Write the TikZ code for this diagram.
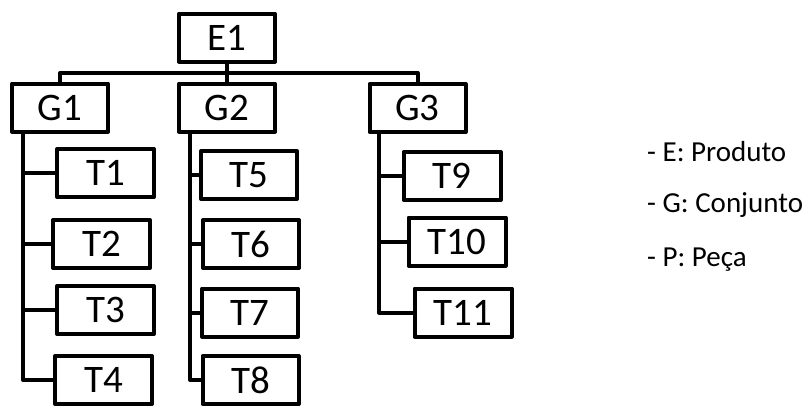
\documentclass[tikz,border=0pt]{standalone}
\usepackage{fontspec}
\setmainfont{Carlito}
\begin{document}
\begin{tikzpicture}[x=1pt,y=-1pt,
  box/.style={draw,line width=4pt,line join=round,minimum width=96pt,minimum height=48pt,inner sep=0pt,font=\fontsize{39}{40}\selectfont},
  conn/.style={line width=4pt,line join=round},
  legend/.style={anchor=base west,inner sep=0pt,font=\fontsize{29}{32}\selectfont}]
\useasboundingbox (0,0) rectangle (808,405);
\node[box] (E1) at (227,37.5) {E1};
\node[box] (G1) at (60,107.5) {G1};
\node[box] (G2) at (227,107.5) {G2};
\node[box] (G3) at (417.5,108) {G3};
\node[box,minimum width=97pt] (T1) at (105.5,173) {T1};
\node[box,minimum width=97pt] (T2) at (101.5,244) {T2};
\node[box,minimum width=97pt] (T3) at (105.5,310) {T3};
\node[box,minimum width=97pt] (T4) at (103.5,380) {T4};
\node[box] (T5) at (249,175) {T5};
\node[box] (T6) at (251,244) {T6};
\node[box] (T7) at (250,312.5) {T7};
\node[box] (T8) at (250.5,380) {T8};
\node[box,minimum width=97pt] (T9) at (452,176) {T9};
\node[box,minimum width=97pt] (T10) at (457,241.5) {T10};
\node[box,minimum width=97pt] (T11) at (463,312.5) {T11};
\coordinate (bus) at (0,73);
\coordinate (s1) at (23,132);
\coordinate (s2) at (190,132);
\coordinate (s3) at (379,131);
\draw[conn] (E1.south) -- (G2.north);
\draw[conn] (G1.north) -- (G1.north |- bus) -- (G3.north |- bus) -- (G3.north);
\draw[conn] (s1) |- (T4.west);
\draw[conn] (T1.west -| s1) -- (T1.west);
\draw[conn] (T2.west -| s1) -- (T2.west);
\draw[conn] (T3.west -| s1) -- (T3.west);
\draw[conn] (s2) |- (T8.west);
\draw[conn] (T5.west -| s2) -- (T5.west);
\draw[conn] (T6.west -| s2) -- (T6.west);
\draw[conn] (T7.west -| s2) -- (T7.west);
\draw[conn] (s3) |- (T11.west);
\draw[conn] (T9.west -| s3) -- (T9.west);
\draw[conn] (T10.west -| s3) -- (T10.west);
\node[legend] (L1) at (647,161) {- E: Produto};
\node[legend] (L2) at (647,212) {- G: Conjunto};
\node[legend] (L3) at (647,266) {- P: Peça};
\end{tikzpicture}
\end{document}
